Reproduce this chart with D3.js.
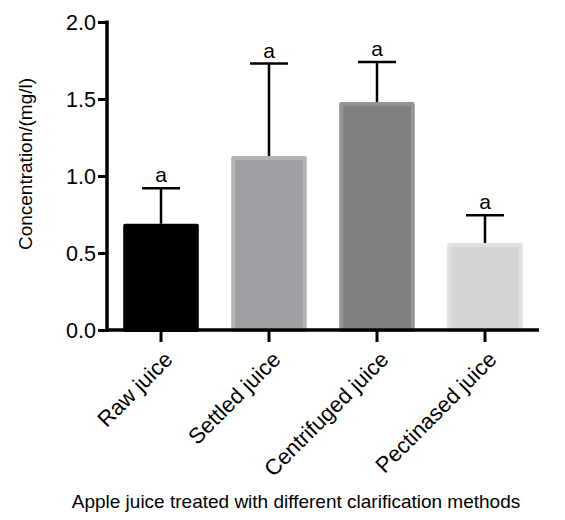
<!DOCTYPE html>
<html><head><meta charset="utf-8">
<script src="https://cdn.jsdelivr.net/npm/d3@7"></script>
<style>body{margin:0;background:#fff}svg{display:block}text{font-family:"Liberation Sans",Arial,sans-serif}</style>
</head><body><svg id="c" width="565" height="520"></svg>
<script>
const categories = ["Raw juice","Settled juice","Centrifuged juice","Pectinased juice"];
const means = [0.69, 1.13, 1.48, 0.565];
const errors = [0.23, 0.60, 0.26, 0.18];
const letters = ["a","a","a","a"];
const fills = ["#000000","#a0a0a4","#808080","#d4d4d4"];
const strokes = ["#000000","#b4b4b4","#959595","#e0e0e0"];
const yTicks = [0, 0.5, 1.0, 1.5, 2.0];

const svg = d3.select("#c");
const x = d3.scaleBand().domain(categories).range([107, 539]).paddingInner(0.3).paddingOuter(0.15);
const y = d3.scaleLinear().domain([0, 2]).range([330, 22]);

const g = svg.append("g");
g.selectAll("rect.bar").data(categories).join("rect")
  .attr("x", d => x(d) + 2).attr("width", x.bandwidth() - 4)
  .attr("y", (d,i) => y(means[i]) + 2).attr("height", (d,i) => y(0) - y(means[i]) - 2)
  .attr("fill", (d,i) => fills[i]).attr("stroke", (d,i) => strokes[i]).attr("stroke-width", 4)
  .attr("stroke-linejoin","round");

const cx = d => x(d) + x.bandwidth()/2;
g.selectAll("line.err").data(categories).join("line")
  .attr("x1", cx).attr("x2", cx)
  .attr("y1", (d,i) => y(means[i])).attr("y2", (d,i) => y(means[i]+errors[i]))
  .attr("stroke","#000").attr("stroke-width",2.5);
g.selectAll("line.cap").data(categories).join("line")
  .attr("x1", d => cx(d) - 19).attr("x2", d => cx(d) + 19)
  .attr("y1", (d,i) => y(means[i]+errors[i])).attr("y2", (d,i) => y(means[i]+errors[i]))
  .attr("stroke","#000").attr("stroke-width",2.5);
g.selectAll("text.lt").data(categories).join("text")
  .attr("x", cx).attr("y", (d,i) => y(means[i]+errors[i]) - 6)
  .attr("text-anchor","middle").attr("font-size",21).text((d,i) => letters[i]);

// axes
const ya = svg.append("g").attr("transform","translate(107,0)")
  .call(d3.axisLeft(y).tickValues(yTicks).tickFormat(d3.format(".1f")).tickSize(9).tickSizeOuter(0));
ya.select(".domain").attr("stroke-width",3.5).attr("d","M0,20.5V332");
ya.selectAll(".tick line").attr("stroke-width",3);
ya.selectAll(".tick text").attr("font-size",21.5).attr("fill","#000").attr("x",-11).attr("dy","0.36em");

const xa = svg.append("g").attr("transform","translate(0,330)")
  .call(d3.axisBottom(x).tickSize(12).tickSizeOuter(0));
xa.select(".domain").attr("stroke-width",3.5).attr("d","M105.5,0H539");
xa.selectAll(".tick line").attr("stroke-width",3);
xa.selectAll(".tick text").attr("font-size",22).attr("fill","#000")
  .attr("text-anchor","end").attr("dy","0.7em").attr("x",0).attr("y",0)
  .attr("transform","translate(2,20) rotate(-45)");

svg.append("text").attr("transform","translate(32,164) rotate(-90)")
  .attr("text-anchor","middle").attr("font-size",19).text("Concentration/(mg/l)");
svg.append("text").attr("x",296).attr("y",508)
  .attr("text-anchor","middle").attr("font-size",19).text("Apple juice treated with different clarification methods");
</script></body></html>
